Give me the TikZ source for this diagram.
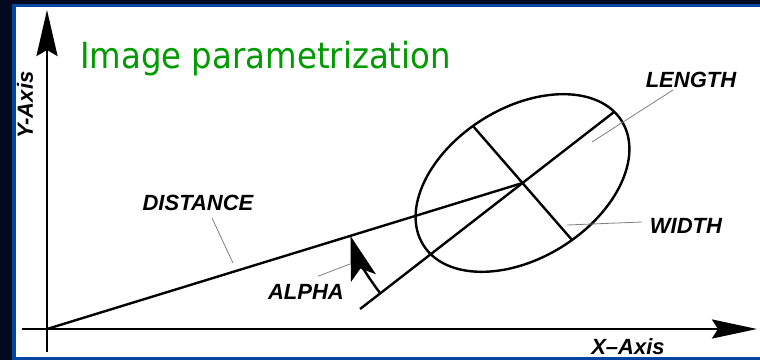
\documentclass[tikz,border=0pt]{standalone}
\usepackage{fontspec}
\usepackage{xcolor}
\usepackage{tikz}
\usetikzlibrary{arrows.meta}
\newfontfamily\titlefont[FakeStretch=0.9]{DejaVu Sans}
\newfontfamily\lblfont{Liberation Sans}
\definecolor{slidebg}{RGB}{2,8,30}
\definecolor{slideblue}{RGB}{0,70,160}
\definecolor{titlegreen}{RGB}{0,155,0}

\begin{document}
\begin{tikzpicture}[x=1pt,y=1pt,
  axis/.style={draw=black,line width=2.6pt},
  axisarr/.style={axis,-{Stealth[length=46pt,width=21pt,inset=6pt]}},
  geom/.style={draw=black,line width=2.4pt},
  anglearr/.style={geom,-{Stealth[length=44pt,width=26pt,inset=10pt]}},
  leader/.style={draw=black!50,line width=0.8pt},
  lbl/.style={font=\lblfont\fontsize{22}{26}\selectfont\bfseries\itshape,inner sep=2pt},
  ttl/.style={font=\titlefont\fontsize{36}{42}\selectfont,text=titlegreen,inner sep=0pt}]

  \fill[slidebg] (0,0) rectangle (760,360);
  \fill[slideblue] (11.5,0) rectangle (760,356);
  \fill[white] (16,3.5) rectangle (760,353);
  \useasboundingbox (0,0) rectangle (760,360);

  \node[ttl,anchor=base west] (title) at (80,292) {Image parametrization};

  \coordinate (origin) at (47,31);
  \coordinate (ybot) at (47,8);
  \coordinate (ytip) at (47,350);
  \coordinate (xleft) at (22,31);
  \coordinate (xtip) at (757,31);
  \coordinate (centre) at (522.5,177);
  \coordinate (majA) at ([shift={(217.8:205.6)}]centre);
  \coordinate (majB) at ([shift={(37.8:116)}]centre);
  \coordinate (minA) at ([shift={(131:75.5)}]centre);
  \coordinate (minB) at ([shift={(-49:75.5)}]centre);

  \draw[axisarr] (ybot) -- (ytip);
  \draw[axisarr,-{Stealth[length=45pt,width=19pt,inset=6pt]}] (xleft) -- (xtip);

  \draw[geom,rotate around={32:(centre)}] (centre) ellipse[x radius=117,y radius=75];
  \draw[geom] (origin) -- (centre);
  \draw[geom] (majA) -- (majB);
  \draw[geom] (minA) -- (minB);
  \draw[anglearr] ([shift={(217.8:180)}]centre) arc[start angle=217.8,end angle=197.1,radius=180];

  \node[lbl,rotate=90] (ylbl) at (25,255) {Y-Axis};
  \node[lbl] (xlbl) at (628,13) {X–Axis};
  \node[lbl] (lenlbl) at (691,280) {LENGTH};
  \node[lbl] (distlbl) at (198,157) {DISTANCE};
  \node[lbl] (widlbl) at (686,134) {WIDTH};
  \node[lbl] (alphlbl) at (306,68) {ALPHA};

  \coordinate (lenpt) at (592,218);
  \coordinate (distpt) at (233,97);
  \coordinate (widpt) at (567,135);
  \coordinate (alphpt) at (350,96);

  \draw[leader] ([xshift=-18pt]lenlbl.south) -- (lenpt);
  \draw[leader] ([xshift=14pt,yshift=-5pt]distlbl.south) -- (distpt);
  \draw[leader] ([xshift=-6pt,yshift=4pt]widlbl.west) -- (widpt);
  \draw[leader] ([xshift=12pt,yshift=6pt]alphlbl.north) -- (alphpt);
\end{tikzpicture}
\end{document}
